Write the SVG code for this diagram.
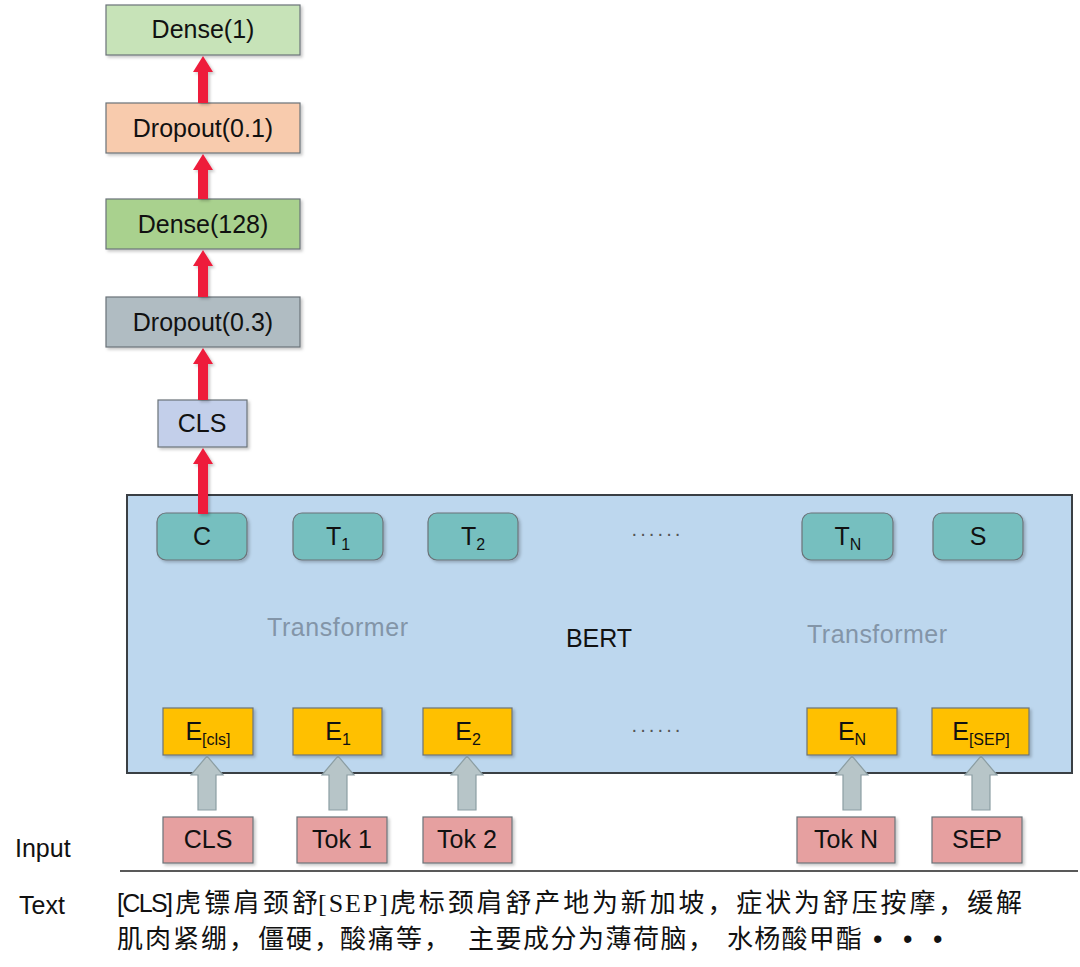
<svg xmlns="http://www.w3.org/2000/svg" width="1080" height="967" viewBox="0 0 1080 967">
<defs>
<filter id="sh" x="-10%" y="-10%" width="130%" height="140%">
<feDropShadow dx="2" dy="2" stdDeviation="1.5" flood-color="#000" flood-opacity="0.22"/>
</filter>
</defs>
<style>
.box{stroke:#6b7378;stroke-width:1.2;filter:url(#sh)}
.lbl{font-family:"Liberation Sans",Arial,sans-serif;font-size:25px;fill:#111;text-anchor:middle}
.side{font-family:"Liberation Sans",Arial,sans-serif;font-size:25px;fill:#111;text-anchor:start}
.sm{font-size:16px}
.tf{font-family:"Liberation Sans",Arial,sans-serif;font-size:25px;fill:#8395a8}
.cjk{font-family:"Noto Sans CJK SC","Noto Sans CJK JP",sans-serif;font-size:26px;fill:#111}
.red{fill:#ee1c3a;filter:url(#sh)}
.garr{fill:#b7c5c8;stroke:#8c9ea3;stroke-width:1.2}
.dots{font-family:"Liberation Sans",Arial,sans-serif;font-size:20px;fill:#555;letter-spacing:2px}
</style>
<rect width="1080" height="967" fill="#fff"/>

<g id="bert">
<rect x="127" y="495" width="945" height="278" fill="#bdd7ee" stroke="#3a3f44" stroke-width="2"/>
<text class="tf" x="267" y="636" textLength="141">Transformer</text>
<text class="tf" x="807" y="643" textLength="140">Transformer</text>
<text class="lbl" x="599" y="647">BERT</text>
<text class="dots" x="631" y="540">······</text>
<text class="dots" x="631" y="736">······</text>
</g>

<g id="dense1"><rect class="box" x="106" y="5" width="194" height="50" fill="#c7e3b8"/><text class="lbl" x="203" y="38">Dense(1)</text></g>
<g id="dropout01"><rect class="box" x="106" y="103" width="194" height="50" fill="#f8cbad"/><text class="lbl" x="203" y="137">Dropout(0.1)</text></g>
<g id="dense128"><rect class="box" x="106" y="199" width="194" height="50" fill="#a9d18e"/><text class="lbl" x="203" y="233">Dense(128)</text></g>
<g id="dropout03"><rect class="box" x="106" y="297" width="194" height="50" fill="#b0bcc2"/><text class="lbl" x="203" y="331">Dropout(0.3)</text></g>
<g id="cls-out"><rect class="box" x="158" y="400" width="89" height="47" fill="#c3cfea"/><text class="lbl" x="202" y="432">CLS</text></g>

<g id="t-c"><rect class="box" x="157" y="513" width="90" height="47" rx="9" fill="#76bfbf"/><text class="lbl" x="202" y="545">C</text></g>
<g id="t-1"><rect class="box" x="293" y="513" width="90" height="47" rx="9" fill="#76bfbf"/><text class="lbl" x="338" y="545">T<tspan class="sm" dy="5">1</tspan></text></g>
<g id="t-2"><rect class="box" x="428" y="513" width="90" height="47" rx="9" fill="#76bfbf"/><text class="lbl" x="473" y="545">T<tspan class="sm" dy="5">2</tspan></text></g>
<g id="t-n"><rect class="box" x="802" y="513" width="91" height="47" rx="9" fill="#76bfbf"/><text class="lbl" x="848" y="545">T<tspan class="sm" dy="5">N</tspan></text></g>
<g id="t-s"><rect class="box" x="933" y="513" width="90" height="47" rx="9" fill="#76bfbf"/><text class="lbl" x="978" y="545">S</text></g>

<g id="e-cls"><rect class="box" x="163" y="708" width="90" height="47" fill="#ffc000"/><text class="lbl" x="208" y="740">E<tspan class="sm" dy="5">[cls]</tspan></text></g>
<g id="e-1"><rect class="box" x="293" y="708" width="89" height="47" fill="#ffc000"/><text class="lbl" x="338" y="740">E<tspan class="sm" dy="5">1</tspan></text></g>
<g id="e-2"><rect class="box" x="423" y="708" width="89" height="47" fill="#ffc000"/><text class="lbl" x="468" y="740">E<tspan class="sm" dy="5">2</tspan></text></g>
<g id="e-n"><rect class="box" x="807" y="708" width="90" height="47" fill="#ffc000"/><text class="lbl" x="852" y="740">E<tspan class="sm" dy="5">N</tspan></text></g>
<g id="e-sep"><rect class="box" x="932" y="708" width="97" height="47" fill="#ffc000"/><text class="lbl" x="981" y="740">E<tspan class="sm" dy="5">[SEP]</tspan></text></g>

<g id="tok-cls"><rect class="box" x="163" y="817" width="90" height="46" fill="#e6a0a0"/><text class="lbl" x="208" y="848">CLS</text></g>
<g id="tok-1"><rect class="box" x="297" y="817" width="90" height="46" fill="#e6a0a0"/><text class="lbl" x="342" y="848">Tok 1</text></g>
<g id="tok-2"><rect class="box" x="423" y="817" width="89" height="46" fill="#e6a0a0"/><text class="lbl" x="467" y="848">Tok 2</text></g>
<g id="tok-n"><rect class="box" x="797" y="817" width="98" height="46" fill="#e6a0a0"/><text class="lbl" x="846" y="848">Tok N</text></g>
<g id="tok-sep"><rect class="box" x="932" y="817" width="90" height="46" fill="#e6a0a0"/><text class="lbl" x="977" y="848">SEP</text></g>

<g id="connectors">
<path class="red" d="M198,103 L198,72 L193,72 L203,56 L213,72 L208,72 L208,103 Z"/>
<path class="red" d="M198,199 L198,170 L193,170 L203,154 L213,170 L208,170 L208,199 Z"/>
<path class="red" d="M198,297 L198,266 L193,266 L203,250 L213,266 L208,266 L208,297 Z"/>
<path class="red" d="M198,400 L198,364 L193,364 L203,348 L213,364 L208,364 L208,400 Z"/>
<path class="red" d="M198,514 L198,464 L193,464 L203,448 L213,464 L208,464 L208,514 Z"/>
<path class="garr" d="M198,810 L198,775 L191,775 L207,756 L223,775 L216,775 L216,810 Z"/>
<path class="garr" d="M329,810 L329,775 L322,775 L338,756 L354,775 L347,775 L347,810 Z"/>
<path class="garr" d="M458,810 L458,775 L451,775 L467,756 L483,775 L476,775 L476,810 Z"/>
<path class="garr" d="M843,810 L843,775 L836,775 L852,756 L868,775 L861,775 L861,810 Z"/>
<path class="garr" d="M972,810 L972,775 L965,775 L981,756 L997,775 L990,775 L990,810 Z"/>
</g>

<g id="labels">
<text class="side" x="15" y="857">Input</text>
<text class="side" x="19" y="914">Text</text>
<line x1="120" y1="871" x2="1078" y2="871" stroke="#222" stroke-width="1.5"/>
<text x="117" y="912" font-family="Liberation Sans,Arial,sans-serif" font-size="25" fill="#111" textLength="56">[CLS]</text>
<text class="cjk" x="175" y="912" textLength="143">虎镖肩颈舒</text>
<text x="318" y="912" font-family="Liberation Serif,serif" font-size="26" fill="#111" textLength="70">[SEP]</text>
<text class="cjk" x="390" y="912" textLength="632">虎标颈肩舒产地为新加坡，症状为舒压按摩，缓解</text>
<text class="cjk" x="117" y="948" textLength="138">肌肉紧绷，</text>
<text class="cjk" x="258" y="948" textLength="82">僵硬，</text>
<text class="cjk" x="340" y="948" textLength="110">酸痛等，</text>
<text class="cjk" x="468" y="948" textLength="246">主要成分为薄荷脑，</text>
<text class="cjk" x="727" y="948" textLength="135">水杨酸甲酯</text>
<text y="948" font-family="Liberation Sans,Arial,sans-serif" font-size="27" fill="#111"><tspan x="873">•</tspan><tspan x="903">•</tspan><tspan x="933">•</tspan></text>
</g>
</svg>
